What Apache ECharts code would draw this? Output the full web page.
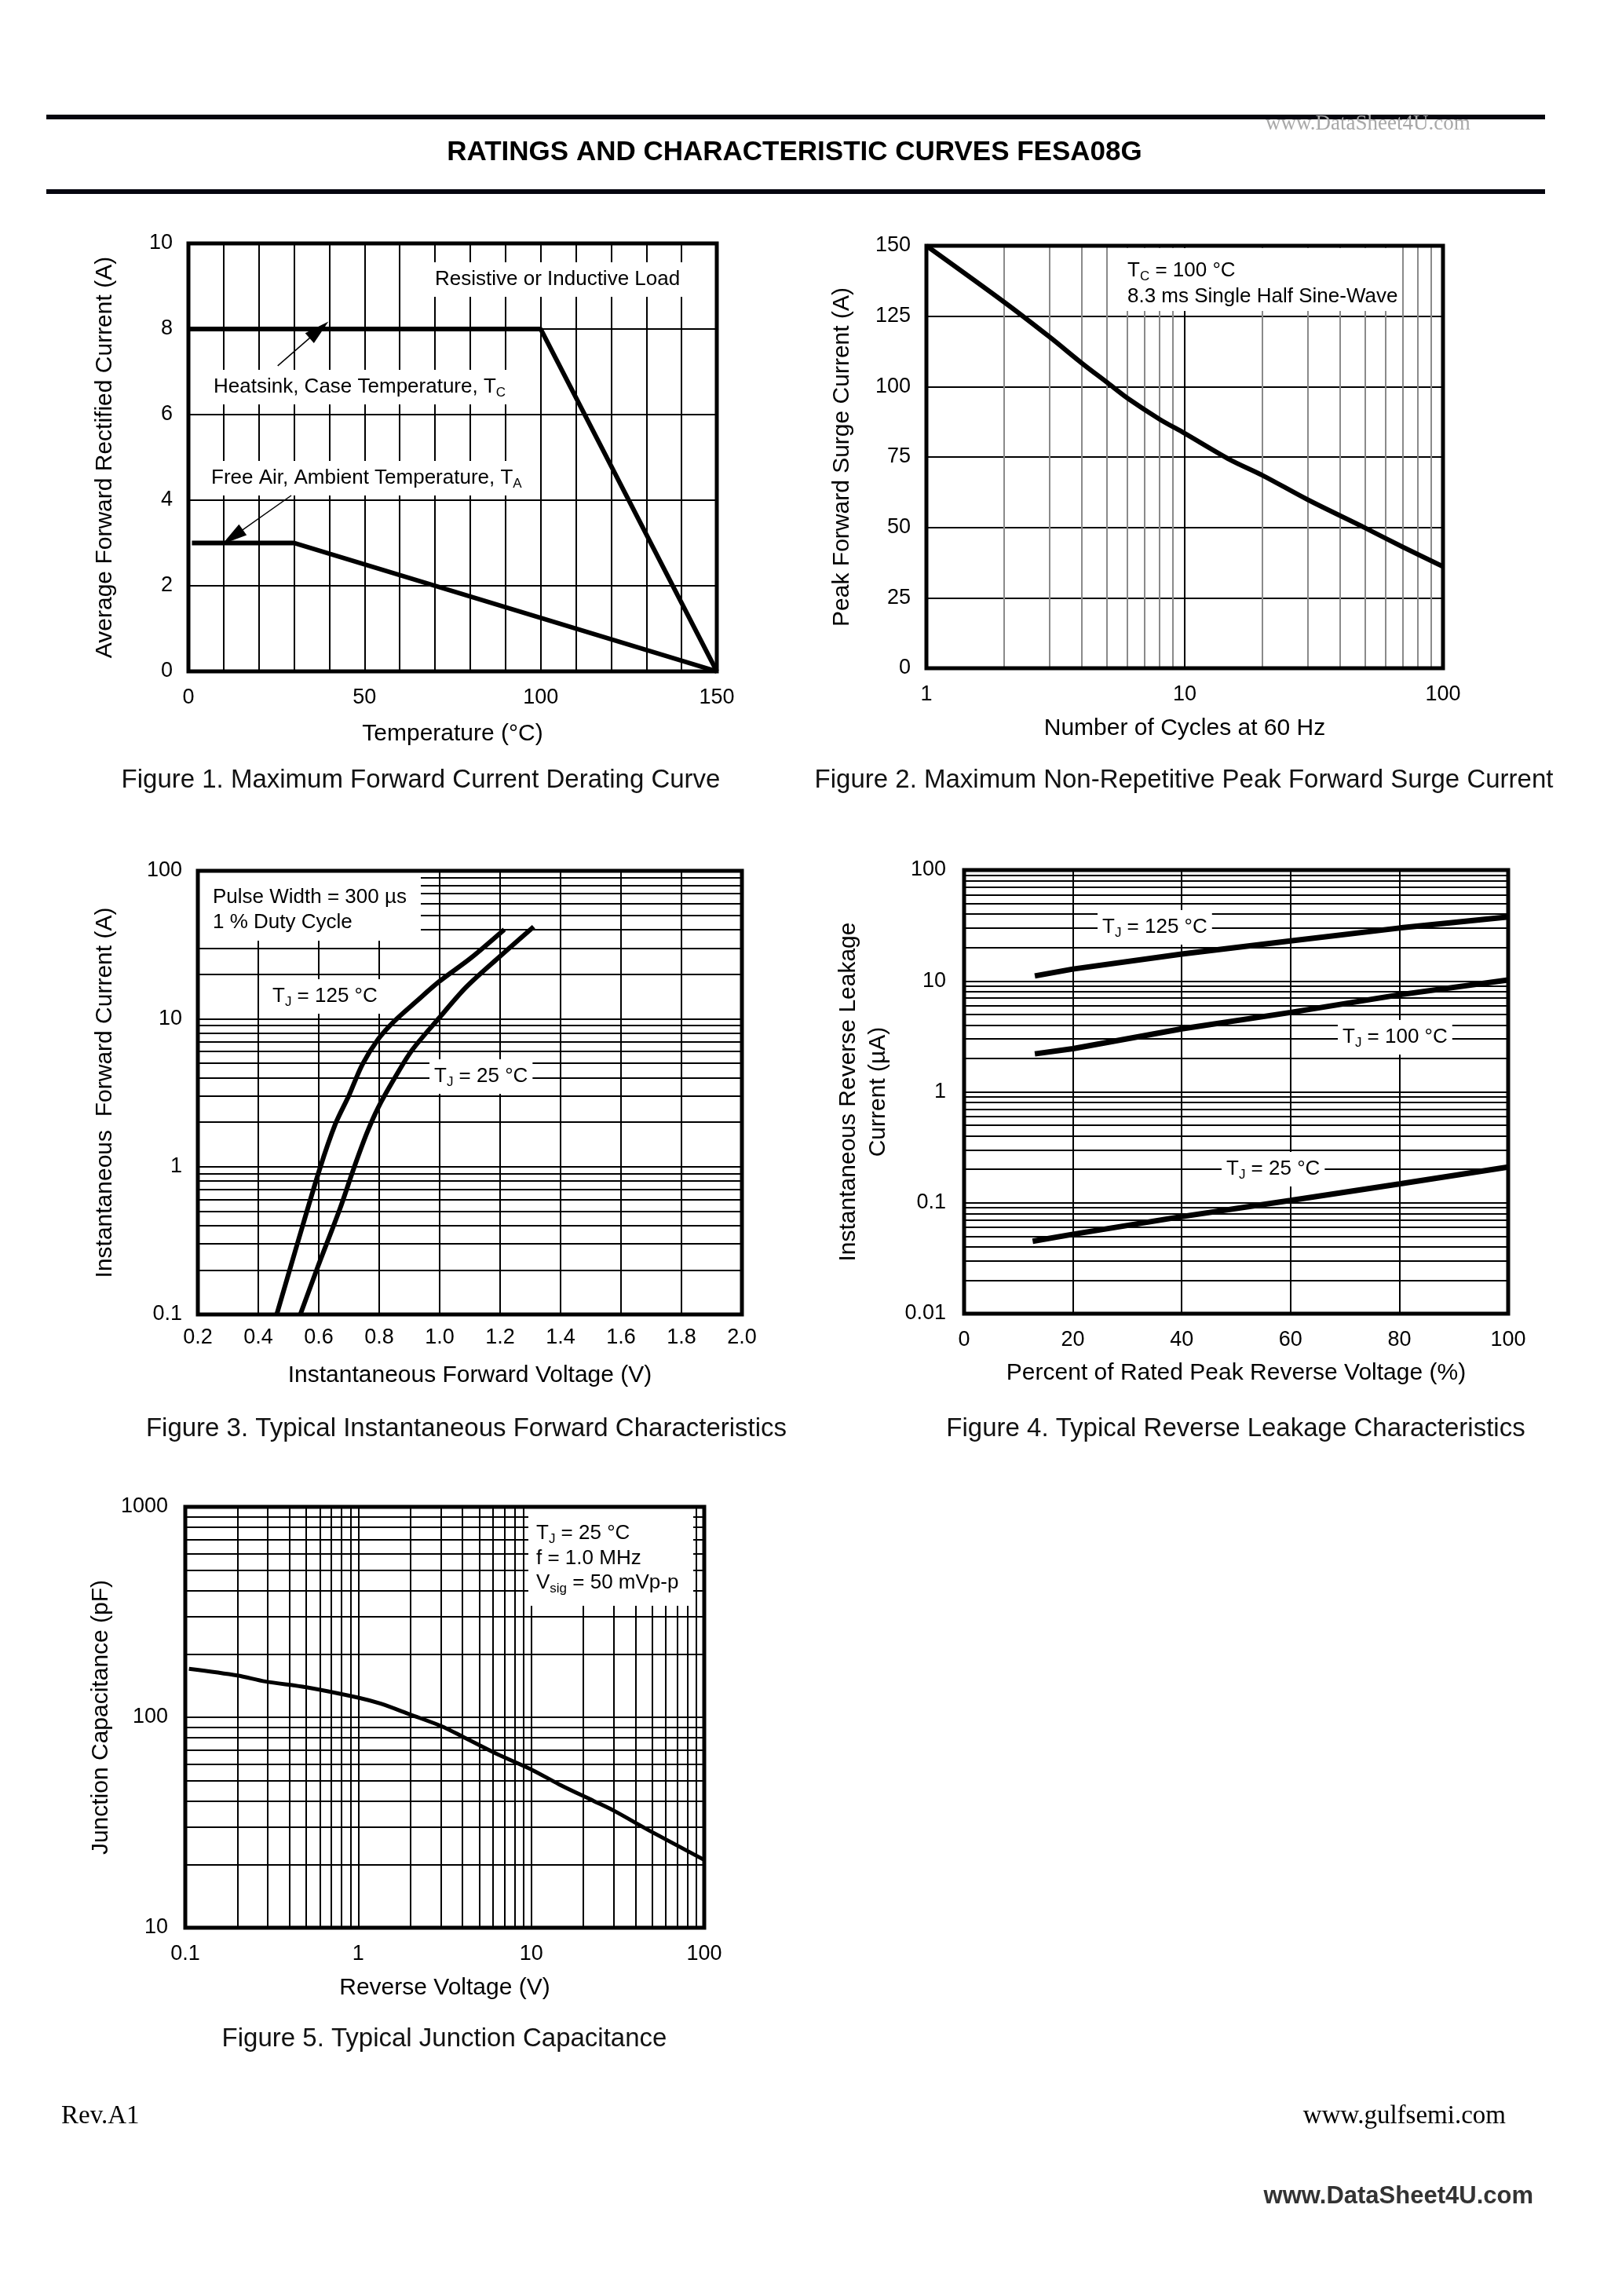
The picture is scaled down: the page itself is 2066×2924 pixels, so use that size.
<!DOCTYPE html>
<html>
<head>
<meta charset="utf-8">
<title>FESA08G ratings and characteristic curves</title>
<script src="https://cdn.jsdelivr.net/npm/echarts@6/dist/echarts.min.js"></script>
<style>
  html, body { margin: 0; padding: 0; background: #fff; }
  #page { width: 2066px; height: 2924px; }
</style>
</head>
<body>
<div id="page"></div>
<script>
// Figure 1 - derating curve
const fig1TcTemp = [0, 100, 150];
const fig1TcCurrent = [8, 8, 0];
const fig1TaTemp = [1, 30, 150];
const fig1TaCurrent = [3, 3, 0];

// Figure 2 - peak forward surge current
const fig2Cycles = [1, 2, 3, 4, 5, 6, 8, 10, 15, 20, 30, 50, 70, 100];
const fig2Surge = [150, 130, 117.6, 108.3, 101.5, 95.9, 88.4, 83.4, 74, 68.5, 59.8, 49.8, 43, 36.1];

// Figure 3 - forward characteristics
const fig3Volt125 = [0.461, 0.528, 0.603, 0.655, 0.700, 0.744, 0.796, 0.849, 0.923, 0.998, 1.102, 1.214];
const fig3Amp125 = [0.1, 0.295, 0.96, 1.94, 3.03, 4.89, 7.24, 9.58, 13.1, 17.8, 25.6, 40.1];
const fig3Volt25 = [0.539, 0.595, 0.670, 0.715, 0.759, 0.796, 0.849, 0.908, 0.998, 1.087, 1.192, 1.311];
const fig3Amp25 = [0.1, 0.205, 0.518, 0.96, 1.68, 2.49, 3.9, 6.1, 10.1, 16.3, 25.6, 41.9];

// Figure 4 - reverse leakage
const fig4Percent = [13, 20, 40, 60, 80, 100];
const fig4Leak125 = [11.1, 12.8, 17.5, 23, 30, 37.8];
const fig4Leak100 = [2.2, 2.45, 3.7, 5.2, 7.5, 10.2];
const fig4Percent25 = [12.6, 20, 40, 60, 80, 100];
const fig4Leak25 = [0.045, 0.052, 0.075, 0.105, 0.148, 0.21];

// Figure 5 - junction capacitance
const fig5Volt = [0.105, 0.2, 0.29, 0.5, 1, 1.35, 2, 3, 4, 6.2, 10, 14.5, 23, 30, 48, 100];
const fig5Cap = [170, 158, 148, 139, 124, 116, 103, 91, 81, 67.5, 56.5, 48, 40, 36, 29, 21];

const FONT = '"Liberation Sans", Arial, Helvetica, sans-serif';
const SERIF = '"Liberation Serif", "Times New Roman", serif';

const pairs = (xs, ys) => xs.map((x, i) => [x, ys[i]]);
const logLabel = v => String(+(+v).toPrecision(6));

// 2..9 x 10^k between min and max (log axis minor grid)
function minorLogValues(min, max) {
  const out = [];
  for (let d = min; d < max * 0.999; d *= 10) {
    for (let m = 2; m <= 9; m++) out.push(+(m * d).toPrecision(6));
  }
  return out;
}

function gridLines(idx, axis, values, color) {
  return {
    type: 'line', xAxisIndex: idx, yAxisIndex: idx, data: [], z: 0, silent: true,
    markLine: {
      z: 0, silent: true, symbol: 'none', animation: false,
      label: { show: false },
      lineStyle: { color: color, width: 2, type: 'solid' },
      data: values.map(v => ({ [axis]: v }))
    }
  };
}

function curve(idx, data, width, smooth) {
  return {
    type: 'line', xAxisIndex: idx, yAxisIndex: idx, data: data, z: 3,
    showSymbol: false, smooth: smooth || false, silent: true,
    lineStyle: { color: '#000', width: width }
  };
}

function axis(o) {
  return Object.assign({
    axisLine: { show: false },
    axisTick: { show: false },
    nameLocation: 'middle',
    nameTextStyle: { color: '#000', fontSize: 30, fontFamily: FONT, lineHeight: 38 },
    splitLine: { show: true, lineStyle: { color: '#000', width: 2 } }
  }, o, {
    axisLabel: Object.assign({ color: '#000', fontSize: 27, fontFamily: FONT, margin: 20,
      showMinLabel: true, showMaxLabel: true }, o.axisLabel || {})
  });
}

const rich = {
  m: { fill: '#000', fontSize: 26, fontFamily: FONT, lineHeight: 32 },
  s: { fill: '#000', fontSize: 17, fontFamily: FONT, lineHeight: 14, verticalAlign: 'bottom' }
};

function label(x, y, text, bg) {
  return {
    type: 'text', x: x, y: y, z: 1,
    style: Object.assign({
      text: text, rich: rich, align: 'left', verticalAlign: 'middle',
      fill: '#000', font: '26px ' + FONT
    }, bg ? { backgroundColor: '#fff', padding: [6, 6, 6, 6] } : {})
  };
}

function box(x, y, w, h) {
  return { type: 'rect', z: 1, shape: { x: x, y: y, width: w, height: h },
    style: { fill: '#fff', stroke: null } };
}

function caption(x, y, text) {
  return { type: 'text', x: x, y: y, z: 10,
    style: { text: text, align: 'center', verticalAlign: 'middle', fill: '#111', font: '33px ' + FONT } };
}

const chart = echarts.init(document.getElementById('page'));

chart.setOption({
  backgroundColor: '#fff',
  animation: false,
  grid: [
    { left: 240, top: 310, width: 673, height: 545 },
    { left: 1180, top: 313, width: 658, height: 538 },
    { left: 252, top: 1109, width: 693, height: 565 },
    { left: 1228, top: 1108, width: 693, height: 565 },
    { left: 236, top: 1919, width: 661, height: 536 }
  ].map(g => Object.assign({ show: true, borderColor: '#000', borderWidth: 5,
    backgroundColor: 'transparent', z: 5 }, g)),
  xAxis: [
    axis({ gridIndex: 0, type: 'value', min: 0, max: 150, interval: 10,
      name: 'Temperature (°C)', nameGap: 61,
      axisLabel: { formatter: v => (v % 50 === 0 ? String(v) : '') } }),
    axis({ gridIndex: 1, type: 'log', min: 1, max: 100,
      name: 'Number of Cycles at 60 Hz', nameGap: 58,
      axisLabel: { formatter: logLabel } }),
    axis({ gridIndex: 2, type: 'value', min: 0.2, max: 2.0, interval: 0.2,
      name: 'Instantaneous Forward Voltage (V)', nameGap: 59,
      axisLabel: { formatter: v => (+v).toFixed(1), margin: 16 } }),
    axis({ gridIndex: 3, type: 'value', min: 0, max: 100, interval: 20,
      name: 'Percent of Rated Peak Reverse Voltage (%)', nameGap: 57 }),
    axis({ gridIndex: 4, type: 'log', min: 0.1, max: 100,
      name: 'Reverse Voltage (V)', nameGap: 58,
      axisLabel: { formatter: logLabel } })
  ],
  yAxis: [
    axis({ gridIndex: 0, type: 'value', min: 0, max: 10, interval: 2,
      name: 'Average Forward Rectified Current (A)', nameGap: 87 }),
    axis({ gridIndex: 1, type: 'value', min: 0, max: 150, interval: 25,
      name: 'Peak Forward Surge Current (A)', nameGap: 88 }),
    axis({ gridIndex: 2, type: 'log', min: 0.1, max: 100,
      name: 'Instantaneous  Forward Current (A)', nameGap: 99,
      axisLabel: { formatter: logLabel } }),
    axis({ gridIndex: 3, type: 'log', min: 0.01, max: 100,
      name: 'Instantaneous Reverse Leakage\nCurrent (µA)', nameGap: 90,
      axisLabel: { formatter: logLabel, margin: 23 } }),
    axis({ gridIndex: 4, type: 'log', min: 10, max: 1000,
      name: 'Junction Capacitance (pF)', nameGap: 88,
      axisLabel: { formatter: logLabel, margin: 22 } })
  ],
  series: [
    // figure 1
    curve(0, pairs(fig1TcTemp, fig1TcCurrent), 6),
    curve(0, pairs(fig1TaTemp, fig1TaCurrent), 6),
    {
      type: 'line', xAxisIndex: 0, yAxisIndex: 0, data: [], silent: true,
      markLine: {
        z: 4, silent: true, animation: false,
        symbol: ['none', 'triangle'], symbolSize: [17, 32],
        label: { show: false },
        lineStyle: { color: '#000', width: 1.5, type: 'solid' },
        data: [
          [{ coord: [25.35, 7.14] }, { coord: [37.07, 7.98] }],
          [{ coord: [29.2, 4.11] }, { coord: [12.53, 3.14] }]
        ]
      }
    },
    // figure 2
    gridLines(1, 'xAxis', minorLogValues(1, 100), '#8a8a8a'),
    curve(1, pairs(fig2Cycles, fig2Surge), 6, 0.3),
    // figure 3
    gridLines(2, 'yAxis', minorLogValues(0.1, 100), '#000'),
    curve(2, pairs(fig3Volt125, fig3Amp125), 6, 0.3),
    curve(2, pairs(fig3Volt25, fig3Amp25), 6, 0.3),
    // figure 4
    gridLines(3, 'yAxis', minorLogValues(0.01, 100), '#000'),
    curve(3, pairs(fig4Percent, fig4Leak125), 7),
    curve(3, pairs(fig4Percent, fig4Leak100), 7),
    curve(3, pairs(fig4Percent25, fig4Leak25), 7),
    // figure 5
    gridLines(4, 'xAxis', minorLogValues(0.1, 100), '#000'),
    gridLines(4, 'yAxis', minorLogValues(10, 1000), '#000'),
    curve(4, pairs(fig5Volt, fig5Cap), 5, 0.3)
  ],
  graphic: [
    // page header
    { type: 'line', z: 10, shape: { x1: 59, y1: 149, x2: 1968, y2: 149 },
      style: { stroke: '#05050f', lineWidth: 6 } },
    { type: 'line', z: 10, shape: { x1: 59, y1: 244, x2: 1968, y2: 244 },
      style: { stroke: '#05050f', lineWidth: 6 } },
    { type: 'text', x: 1012, y: 194, z: 10,
      style: { text: 'RATINGS AND CHARACTERISTIC CURVES FESA08G', align: 'center',
        verticalAlign: 'middle', fill: '#000', font: 'bold 35px ' + FONT } },
    { type: 'text', x: 1612, y: 158, z: 10,
      style: { text: 'www.DataSheet4U.com', align: 'left', verticalAlign: 'middle',
        fill: '#a8a8a8', font: '27px ' + SERIF } },

    // figure 1 annotations
    label(548, 356, '{m|Resistive or Inductive Load}', true),
    label(266, 493, '{m|Heatsink, Case Temperature, T}{s|C}', true),
    label(263, 609, '{m|Free Air, Ambient Temperature, T}{s|A}', true),

    // figure 2 annotation box
    box(1427, 316, 359, 80),
    label(1436, 345, '{m|T}{s|C}{m| = 100 °C}'),
    label(1436, 378, '{m|8.3 ms Single Half Sine-Wave}'),

    // figure 3 annotations
    box(254, 1111, 282, 87),
    label(271, 1143, '{m|Pulse Width = 300 µs}'),
    label(271, 1175, '{m|1 % Duty Cycle}'),
    label(341, 1269, '{m|T}{s|J}{m| = 125 °C}', true),
    label(547, 1371, '{m|T}{s|J}{m| = 25 °C}', true),

    // figure 4 annotations
    label(1398, 1181, '{m|T}{s|J}{m| = 125 °C}', true),
    label(1704, 1321, '{m|T}{s|J}{m| = 100 °C}', true),
    label(1556, 1489, '{m|T}{s|J}{m| = 25 °C}', true),

    // figure 5 annotation box
    box(673, 1921, 210, 124),
    label(683, 1953, '{m|T}{s|J}{m| = 25 °C}'),
    label(683, 1985, '{m|f = 1.0 MHz}'),
    label(683, 2016, '{m|V}{s|sig}{m| = 50 mVp-p}'),

    // captions
    caption(536, 994, 'Figure 1. Maximum Forward Current Derating Curve'),
    caption(1508, 994, 'Figure 2. Maximum Non-Repetitive Peak Forward Surge Current'),
    caption(594, 1820, 'Figure 3. Typical Instantaneous Forward Characteristics'),
    caption(1574, 1820, 'Figure 4. Typical Reverse Leakage Characteristics'),
    caption(566, 2597, 'Figure 5. Typical Junction Capacitance'),

    // footer
    { type: 'text', x: 78, y: 2695, z: 10,
      style: { text: 'Rev.A1', align: 'left', verticalAlign: 'middle',
        fill: '#000', font: '33px ' + SERIF } },
    { type: 'text', x: 1918, y: 2695, z: 10,
      style: { text: 'www.gulfsemi.com', align: 'right', verticalAlign: 'middle',
        fill: '#000', font: '33px ' + SERIF } },
    { type: 'text', x: 1953, y: 2797, z: 10,
      style: { text: 'www.DataSheet4U.com', align: 'right', verticalAlign: 'middle',
        fill: '#333', font: 'bold 31px "Liberation Sans Narrow", "Arial Narrow", ' + FONT } }
  ]
});
</script>
</body>
</html>
